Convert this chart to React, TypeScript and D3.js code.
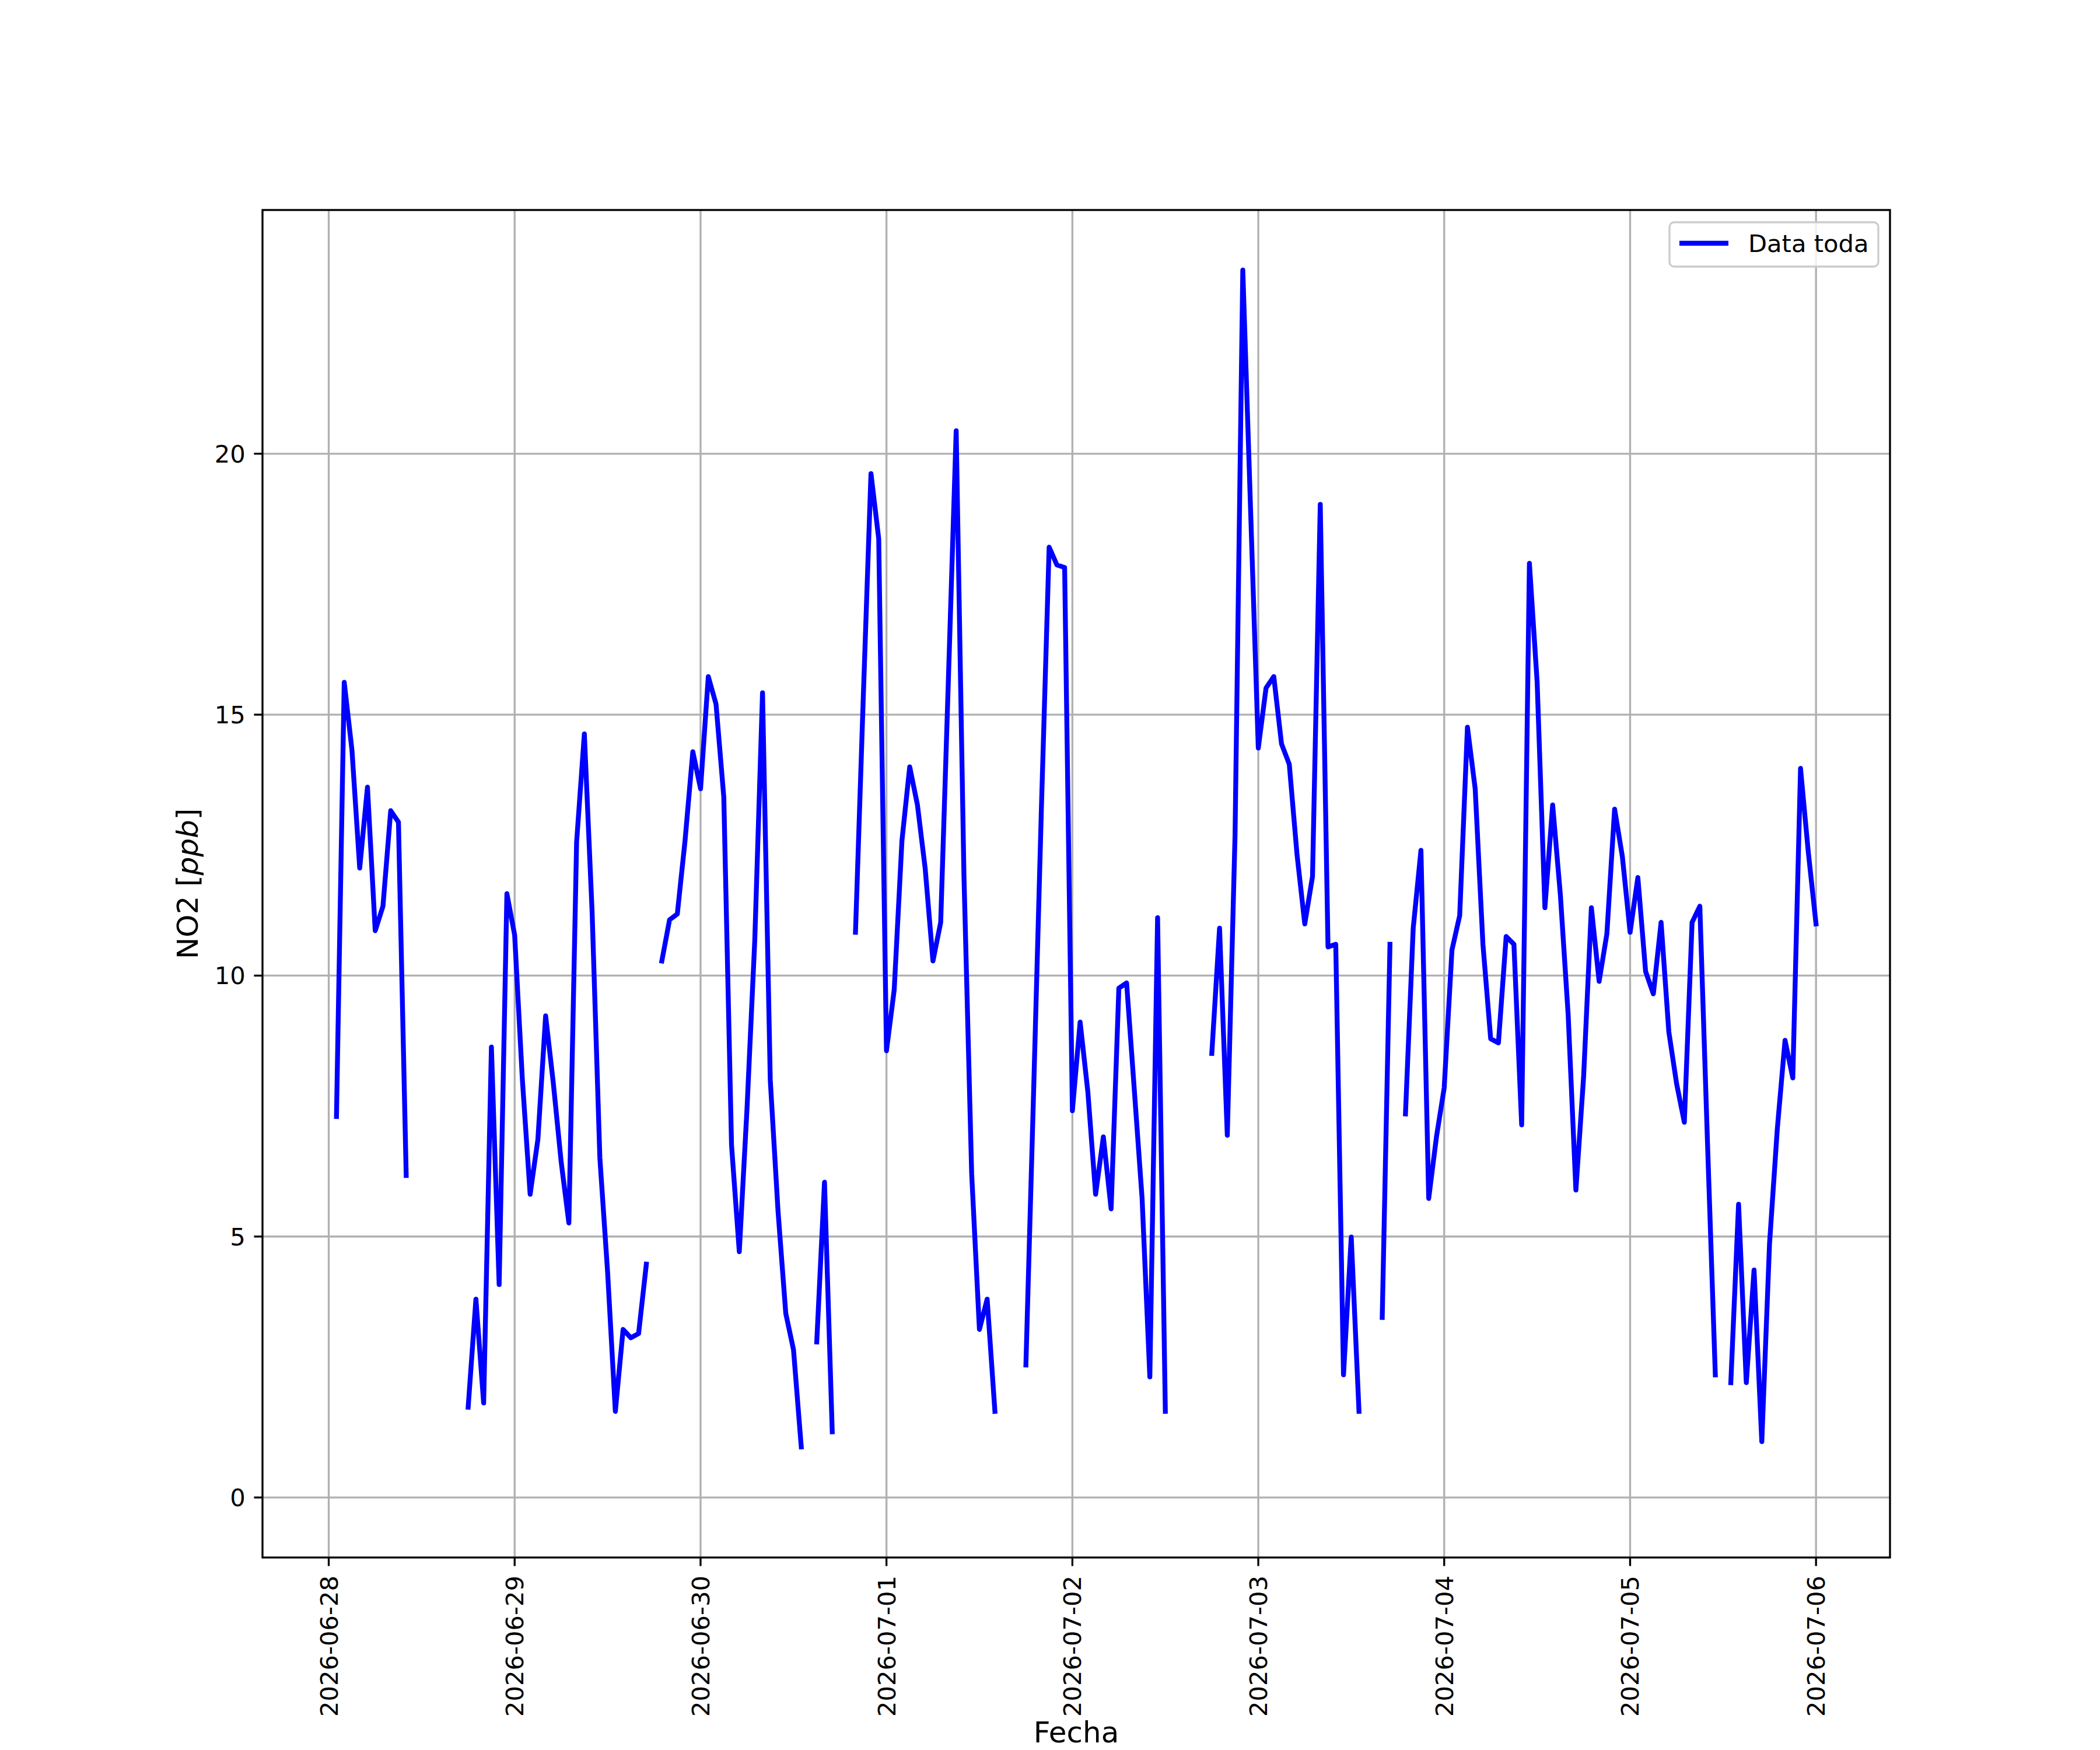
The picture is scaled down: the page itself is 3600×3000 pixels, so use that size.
import React, { useEffect, useRef } from "react";
import * as d3 from "d3";

// hourly NO2 readings, 2026-06-28 01:00 .. 2026-07-06 00:00 (null = no data)
const no2: (number | null)[] = [
  7.3, 15.62, 14.32, 12.06, 13.61, 10.86, 11.33, 13.16, 12.94, 6.17, null, null,
  null, null, null, null, null, 1.73, 3.8, 1.81, 8.63, 4.08, 11.57, 10.78,
  8.0, 5.81, 6.86, 9.23, 7.93, 6.44, 5.26, 12.56, 14.63, 11.22, 6.51, 4.32,
  1.65, 3.22, 3.06, 3.14, 4.47, null, 10.28, 11.07, 11.18, 12.59, 14.29, 13.58,
  15.73, 15.2, 13.42, 6.75, 4.71, 7.46, 10.68, 15.42, 8.0, 5.49, 3.53, 2.83,
  0.97, null, 2.98, 6.04, 1.26, null, null, 10.83, 15.3, 19.62, 18.37, 8.56,
  9.73, 12.59, 14.0, 13.27, 12.05, 10.28, 11.02, 15.7, 20.44, 11.93, 6.2, 3.22,
  3.8, 1.65, null, null, null, 2.54, 7.8, 13.2, 18.21, 17.87, 17.82, 7.41,
  9.11, 7.77, 5.81, 6.91, 5.53, 9.76, 9.86, 7.8, 5.73, 2.31, 11.11, 1.65,
  null, null, null, null, null, 8.51, 10.91, 6.94, 12.7, 23.52, 18.95, 14.36,
  15.51, 15.73, 14.44, 14.05, 12.32, 10.99, 11.9, 19.03, 10.55, 10.6, 2.35, 4.99,
  1.65, null, null, 3.45, 10.6, null, 7.35, 10.91, 12.4, 5.73, 6.91, 7.85,
  10.49, 11.15, 14.76, 13.58, 10.6, 8.79, 8.71, 10.75, 10.6, 7.14, 17.9, 15.62,
  11.3, 13.27, 11.54, 9.26, 5.89, 8.07, 11.3, 9.89, 10.8, 13.19, 12.28, 10.83,
  11.88, 10.08, 9.65, 11.02, 8.92, 7.93, 7.19, 11.02, 11.33, 6.75, 2.35, null,
  2.2, 5.62, 2.2, 4.36, 1.07, 4.87, 7.06, 8.76, 8.04, 13.97, 12.37, 10.99,
];

const firstHour = new Date(Date.UTC(2026, 5, 28, 1));
const times = d3.utcHour.range(firstHour, d3.utcHour.offset(firstHour, no2.length));

const dayTicks = d3.utcDay.range(new Date(Date.UTC(2026, 5, 28)), new Date(Date.UTC(2026, 6, 7)));
const yTicks = [0, 5, 10, 15, 20];
const yLimits = [-1.15, 24.67];

const seriesName = "Data toda";
const xTitle = "Fecha";

const W = 3600;
const H = 3000;
const FONT = "DejaVu Sans";
const FS = 41.67; // 10pt @ 300dpi
const FS_TITLE = 50; // 12pt

const Chart = () => {
  const ref = useRef<SVGSVGElement>(null);

  useEffect(() => {
    const svg = d3.select(ref.current);
    svg.selectAll("*").remove();

    const left = 450,
      right = 3240,
      top = 360,
      bottom = 2670;

    const t0 = times[0].getTime();
    const t1 = times[times.length - 1].getTime();
    const pad = (t1 - t0) * 0.05;
    const x = d3
      .scaleUtc()
      .domain([new Date(t0 - pad), new Date(t1 + pad)])
      .range([left, right]);
    const y = d3.scaleLinear().domain(yLimits).range([bottom, top]);

    svg.append("rect").attr("width", W).attr("height", H).attr("fill", "white");

    svg
      .append("defs")
      .append("clipPath")
      .attr("id", "plotclip")
      .append("rect")
      .attr("x", left)
      .attr("y", top)
      .attr("width", right - left)
      .attr("height", bottom - top);

    // grid
    const grid = svg.append("g").attr("stroke", "#b0b0b0").attr("stroke-width", 3.33);
    grid
      .selectAll("line.vx")
      .data(dayTicks)
      .enter()
      .append("line")
      .attr("x1", (d) => x(d))
      .attr("x2", (d) => x(d))
      .attr("y1", top)
      .attr("y2", bottom);
    grid
      .selectAll("line.hy")
      .data(yTicks)
      .enter()
      .append("line")
      .attr("x1", left)
      .attr("x2", right)
      .attr("y1", (d) => y(d))
      .attr("y2", (d) => y(d));

    // series
    const pts = times.map((t, i) => ({ t, v: no2[i] }));
    const line = d3
      .line<{ t: Date; v: number | null }>()
      .defined((d) => d.v !== null)
      .x((d) => x(d.t))
      .y((d) => y(d.v as number));

    svg
      .append("path")
      .datum(pts)
      .attr("clip-path", "url(#plotclip)")
      .attr("fill", "none")
      .attr("stroke", "#0000ff")
      .attr("stroke-width", 8.33)
      .attr("stroke-linejoin", "round")
      .attr("stroke-linecap", "square")
      .attr("d", line);

    // spines
    svg
      .append("rect")
      .attr("x", left)
      .attr("y", top)
      .attr("width", right - left)
      .attr("height", bottom - top)
      .attr("fill", "none")
      .attr("stroke", "black")
      .attr("stroke-width", 3.33);

    // x ticks + labels
    const xt = svg.append("g");
    xt.selectAll("line")
      .data(dayTicks)
      .enter()
      .append("line")
      .attr("x1", (d) => x(d))
      .attr("x2", (d) => x(d))
      .attr("y1", bottom)
      .attr("y2", bottom + 14.6)
      .attr("stroke", "black")
      .attr("stroke-width", 3.33);
    xt.selectAll("text")
      .data(dayTicks)
      .enter()
      .append("text")
      .attr("transform", (d) => `translate(${x(d)},${bottom + 31}) rotate(-90)`)
      .attr("text-anchor", "end")
      .attr("dy", "0.36em")
      .attr("font-family", FONT)
      .attr("font-size", FS)
      .text((d) => d3.utcFormat("%Y-%m-%d")(d));

    // y ticks + labels
    const yt = svg.append("g");
    yt.selectAll("line")
      .data(yTicks)
      .enter()
      .append("line")
      .attr("x1", left - 14.6)
      .attr("x2", left)
      .attr("y1", (d) => y(d))
      .attr("y2", (d) => y(d))
      .attr("stroke", "black")
      .attr("stroke-width", 3.33);
    yt.selectAll("text")
      .data(yTicks)
      .enter()
      .append("text")
      .attr("x", left - 29.2)
      .attr("y", (d) => y(d))
      .attr("dy", "0.36em")
      .attr("text-anchor", "end")
      .attr("font-family", FONT)
      .attr("font-size", FS)
      .text((d) => d);

    // axis titles
    svg
      .append("text")
      .attr("x", (left + right) / 2)
      .attr("y", 2987)
      .attr("text-anchor", "middle")
      .attr("font-family", FONT)
      .attr("font-size", FS_TITLE)
      .text(xTitle);

    const yl = svg
      .append("text")
      .attr("transform", `translate(339,${(top + bottom) / 2}) rotate(-90)`)
      .attr("text-anchor", "middle")
      .attr("font-family", FONT)
      .attr("font-size", FS_TITLE);
    yl.append("tspan").text("NO2 [");
    yl.append("tspan").attr("font-style", "italic").text("ppb");
    yl.append("tspan").text("]");

    // legend
    const lg = svg.append("g");
    lg.append("rect")
      .attr("x", 2862)
      .attr("y", 381)
      .attr("width", 3220 - 2862)
      .attr("height", 457 - 381)
      .attr("rx", 8)
      .attr("fill", "white")
      .attr("fill-opacity", 0.8)
      .attr("stroke", "#cccccc")
      .attr("stroke-width", 3.33);
    lg.append("line")
      .attr("x1", 2879)
      .attr("x2", 2963)
      .attr("y1", 417)
      .attr("y2", 417)
      .attr("stroke", "#0000ff")
      .attr("stroke-width", 8.33)
      .attr("stroke-linecap", "butt");
    lg.append("text")
      .attr("x", 2997)
      .attr("y", 432)
      .attr("font-family", FONT)
      .attr("font-size", FS)
      .text(seriesName);
  }, []);

  return <svg ref={ref} width={W} height={H} style={{ position: "absolute", left: 0, top: 0 }} />;
};

export default function App() {
  return <Chart />;
}
